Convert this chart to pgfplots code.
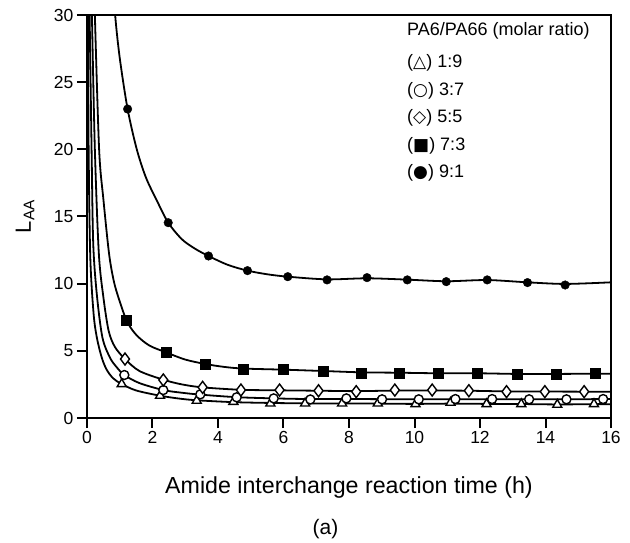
\documentclass[border=0pt]{standalone}
\usepackage{fontspec}
\setmainfont{Liberation Sans}
\newfontfamily\symfont{DejaVu Sans}
\usepackage{pgfplots}
\pgfplotsset{compat=1.18}

\begin{document}
\begin{tikzpicture}
  \begin{axis}[
      scale only axis,
      width=524pt, height=403pt,
      xmin=0, xmax=16, ymin=0, ymax=30,
      xtick={0,2,...,16}, ytick={0,5,...,30},
      tick pos=left, tick align=outside,
      major tick length=10pt,
      axis line style={line width=2.2pt},
      tick style={line width=2pt, black},
      tick label style={font=\fontsize{17.5}{20}\selectfont},
      /pgf/number format/assume math mode=true,
      xlabel={Amide interchange reaction time (h)},
      xlabel style={font=\fontsize{23.2}{28}\selectfont, at={(axis description cs:0.5,-0.1737)}, anchor=center},
      ylabel={L\textsubscript{AA}},
      ylabel style={font=\fontsize{22}{26}\selectfont, at={(axis description cs:-0.1183,0.5)}, anchor=center},
    ]

    % fitted curves
    \addplot[black, line width=1.8pt, smooth] coordinates {
        (0.02,34) (0.03,30) (0.05,20) (0.1,12) (0.2,7.8) (0.3,6) (0.45,4.5) (0.6,3.6)
        (0.8,2.95) (1.06,2.53) (1.5,2.05) (2.23,1.66) (2.8,1.45) (3.35,1.32) (4.47,1.18)
        (5.6,1.12) (6.66,1.09) (7.79,1.08) (8.88,1.07) (10.03,1.05) (11.1,1.07) (12.2,1.05)
        (13.26,1.04) (14.36,1.01) (15.48,1.03) (16,1.03)
      };
    \addplot[black, line width=1.8pt, smooth] coordinates {
        (0.06,34) (0.08,30) (0.14,20) (0.19,13) (0.3,9.2) (0.47,6) (0.7,4.5) (0.9,3.8)
        (1.14,3.2) (1.6,2.6) (2.33,2.08) (2.9,1.88) (3.46,1.74) (4.57,1.55) (5.7,1.46)
        (6.82,1.41) (7.92,1.42) (9.01,1.4) (10.13,1.39) (11.25,1.4) (12.37,1.4) (13.5,1.39)
        (14.64,1.39) (15.76,1.41) (16,1.41)
      };
    \addplot[black, line width=1.8pt, smooth] coordinates {
        (0.12,34) (0.15,30) (0.24,20) (0.36,12.3) (0.5,9) (0.66,6.5) (0.85,5.3) (1.16,4.39)
        (1.6,3.5) (2.33,2.85) (2.9,2.5) (3.53,2.28) (4.7,2.1) (5.88,2.06) (7.07,2.03)
        (8.22,2.0) (9.4,2.04) (10.54,2.05) (11.66,2.03) (12.81,1.98) (13.98,1.97)
        (15.18,1.96) (16,1.96)
      };
    \addplot[black, line width=1.8pt, smooth] coordinates {
        (0.2,34) (0.24,30) (0.37,20) (0.5,16.3) (0.67,12.3) (0.8,10.4) (0.93,9.2) (1.21,7.25)
        (1.5,6.2) (1.9,5.4) (2.41,4.89) (3.0,4.35) (3.61,4.02) (4.2,3.8) (4.78,3.68)
        (5.98,3.6) (7.2,3.5) (8.37,3.4) (9.54,3.37) (10.71,3.33) (11.91,3.33) (13.14,3.28)
        (14.34,3.28) (15.51,3.3) (16,3.3)
      };
    \addplot[black, line width=1.8pt, smooth] coordinates {
        (0.8,33) (0.86,30) (1.0,26.8) (1.24,23.0) (1.52,20.0) (1.8,17.9) (2.13,16.2)
        (2.48,14.54) (2.9,13.3) (3.3,12.6) (3.71,12.06) (4.3,11.4) (4.9,10.97) (5.5,10.7)
        (6.13,10.52) (7.33,10.32) (8.55,10.4) (9.78,10.3) (10.97,10.18) (12.22,10.27)
        (13.45,10.1) (14.6,9.98) (16,10.1)
      };

    % measured points
    % 1:9
    \addplot[only marks, mark=triangle*, mark size=5.2pt,
      mark options={fill=white, draw=black, line width=1.4pt}] coordinates {
        (1.06,2.53) (2.23,1.66) (3.35,1.29) (4.47,1.21) (5.6,1.09) (6.66,1.09) (7.79,1.09)
        (8.88,1.09) (10.03,1.04) (11.1,1.14) (12.2,1.04) (13.26,1.04) (14.36,0.99) (15.48,1.04)
      };
    % 3:7
    \addplot[only marks, mark=*, mark size=4.5pt,
      mark options={fill=white, draw=black, line width=1.4pt}] coordinates {
        (1.14,3.2) (2.33,2.08) (3.46,1.76) (4.57,1.54) (5.7,1.46) (6.82,1.38) (7.92,1.46)
        (9.01,1.39) (10.13,1.39) (11.25,1.41) (12.37,1.41) (13.5,1.39) (14.64,1.39) (15.76,1.41)
      };
    % 5:5
    \addplot[only marks, mark=diamond*, mark size=6pt,
      mark options={fill=white, draw=black, line width=1.4pt}] coordinates {
        (1.16,4.39) (2.33,2.83) (3.53,2.28) (4.7,2.08) (5.88,2.08) (7.07,2.03) (8.22,1.96)
        (9.4,2.08) (10.54,2.08) (11.66,2.03) (12.81,1.96) (13.98,1.96) (15.18,1.96)
      };
    % 7:3
    \addplot[only marks, mark=square*, mark size=5pt,
      mark options={fill=black, draw=black}] coordinates {
        (1.21,7.25) (2.41,4.89) (3.61,4.0) (4.78,3.65) (5.98,3.62) (7.2,3.52) (8.37,3.37)
        (9.54,3.37) (10.71,3.33) (11.91,3.33) (13.14,3.23) (14.34,3.28) (15.51,3.33)
      };
    % 9:1
    \addplot[only marks, mark=*, mark size=4.3pt,
      mark options={fill=black, draw=black}] coordinates {
        (1.24,23.0) (2.48,14.54) (3.71,12.06) (4.9,10.97) (6.13,10.52) (7.33,10.28)
        (8.55,10.45) (9.78,10.28) (10.97,10.15) (12.22,10.28) (13.45,10.08) (14.6,9.9)
      };
  \end{axis}

  % legend block
  \begin{scope}[every node/.style={anchor=west, inner sep=0pt, font=\fontsize{18}{20}\selectfont}]
    \node at ([xshift=320pt,yshift=-16pt]current axis.north west) {PA6/PA66 (molar ratio)};
    \node at ([xshift=320pt,yshift=-48.3pt]current axis.north west) {({\symfont\fontsize{17}{18}\selectfont △}) 1:9};
    \node at ([xshift=320pt,yshift=-75.7pt]current axis.north west) {({\symfont\fontsize{17}{18}\selectfont ○}) 3:7};
    \node at ([xshift=320pt,yshift=-103.3pt]current axis.north west) {({\symfont\fontsize{17}{18}\selectfont ◇}) 5:5};
    \node at ([xshift=320pt,yshift=-131pt]current axis.north west) {({\symfont\fontsize{17}{18}\selectfont ■}) 7:3};
    \node at ([xshift=320pt,yshift=-158.3pt]current axis.north west) {({\symfont\fontsize{17}{18}\selectfont ●}) 9:1};
  \end{scope}

  \node[font=\fontsize{21}{24}\selectfont] at ([xshift=-23.5pt,yshift=-111pt]current axis.south) {(a)};

  % page frame
  \path (current axis.south west) ++(-87pt,-124pt) rectangle ++(630pt,542pt);
\end{tikzpicture}
\end{document}
